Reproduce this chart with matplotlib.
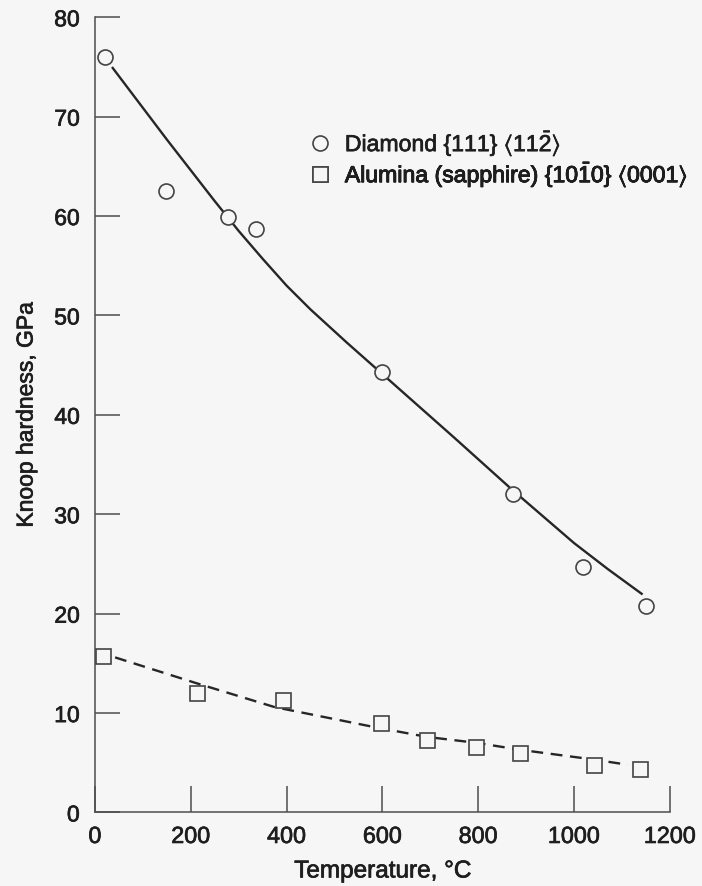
import matplotlib.pyplot as plt
import matplotlib.patheffects as pe
from matplotlib.lines import Line2D

# data
diamond_temp = [20, 148, 278, 336, 600, 872, 1019, 1150]
diamond_hard = [76.0, 62.5, 59.9, 58.7, 44.3, 32.0, 24.7, 20.8]

alumina_temp = [16, 212, 393, 598, 693, 795, 888, 1042, 1137]
alumina_hard = [15.7, 12.05, 11.3, 9.0, 7.3, 6.6, 6.0, 4.8, 4.4]

# trend curves (knots)
diamond_fit_t = [37, 150, 250, 300, 350, 400, 450, 525, 600, 750, 870, 935, 1000, 1070, 1141]
diamond_fit_h = [74.9, 67.7, 61.5, 58.5, 55.7, 53.0, 50.6, 47.3, 44.1, 37.7, 32.5, 29.8, 27.1, 24.5, 22.0]
alumina_fit_t = [42, 212, 375, 582, 693, 797, 888, 1037, 1112]
alumina_fit_h = [15.6, 13.0, 10.6, 8.6, 7.6, 7.0, 6.3, 5.35, 4.8]

x_ticks = [0, 200, 400, 600, 800, 1000, 1200]
y_ticks = [0, 10, 20, 30, 40, 50, 60, 70, 80]

legend_labels = [
    r'Diamond {111} $\langle 11\bar{2}\rangle$',
    r'Alumina (sapphire) {10$\bar{1}$0} $\langle 0001\rangle$',
]

plt.rcParams['font.family'] = ['Liberation Sans', 'DejaVu Sans']
plt.rcParams['mathtext.default'] = 'regular'
plt.rcParams['lines.scale_dashes'] = False

bg = '#f6f6f6'
ink = '#1e1e1e'
axc = '#4d4d4d'
heavy = [pe.withStroke(linewidth=0.5, foreground=ink)]

fig = plt.figure(figsize=(7.02, 8.86), dpi=100, facecolor=bg)
ax = fig.add_axes([0.1353, 0.083, 0.819, 0.8975], facecolor=bg)

ax.plot(diamond_fit_t, diamond_fit_h, color='#262626', lw=1.7)
ax.plot(alumina_fit_t, alumina_fit_h, color='#262626', lw=1.7, dashes=(8.5, 5.5))

mk = dict(ls='none', mfc=bg, mec='#444444', mew=1.2)
ax.plot(diamond_temp, diamond_hard, marker='o', ms=10.8, clip_on=False, zorder=3, **mk)
ax.plot(alumina_temp, alumina_hard, marker='s', ms=10.8, clip_on=False, zorder=3, **mk)

ax.set_xlim(0, 1200)
ax.set_ylim(0, 80)
ax.set_xticks(x_ticks)
ax.set_yticks(y_ticks)

for s in ['top', 'right']:
    ax.spines[s].set_visible(False)
for s in ['left', 'bottom']:
    ax.spines[s].set_color(axc)
    ax.spines[s].set_linewidth(1.1)

ax.tick_params(axis='y', direction='in', length=18, width=1.1, color=axc,
               labelsize=16.5, labelcolor=ink, pad=11)
ax.tick_params(axis='x', direction='in', length=19, width=1.1, color=axc,
               labelsize=16.8, labelcolor=ink, pad=9)
for t in ax.get_xticklabels() + ax.get_yticklabels():
    t.set_path_effects(heavy)

ax.set_xlabel('Temperature, °C', fontsize=17.5, color=ink, labelpad=9,
              path_effects=heavy)
ax.set_ylabel('Knoop hardness, GPa', fontsize=16.5, color=ink, labelpad=12,
              path_effects=heavy)

# legend: one entry per box so the rows sit where they are in the original
handles = [Line2D([], [], marker='o', ms=10.8, **mk),
           Line2D([], [], marker='s', ms=10.8, **mk)]
rows_y = [0.8419, 0.8029]
for h, lab, yy in zip(handles, legend_labels, rows_y):
    leg = ax.legend([h], [lab], loc='center left', bbox_to_anchor=(0.372, yy),
                    frameon=False, fontsize=16.6, handletextpad=0.56,
                    handlelength=1.0, borderpad=0, borderaxespad=0)
    for t in leg.get_texts():
        t.set_color(ink)
        t.set_path_effects(heavy)
    ax.add_artist(leg)

fig.savefig('out.png', dpi=100, facecolor=bg)
